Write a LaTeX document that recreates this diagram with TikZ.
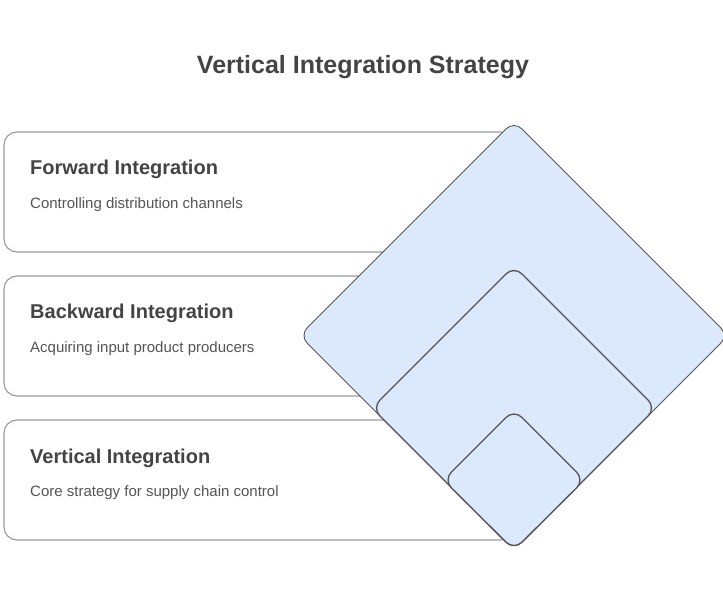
\documentclass[tikz,border=0pt]{standalone}
\usepackage{fontspec}
\setmainfont{Liberation Sans}
\definecolor{titlecol}{HTML}{444444}
\definecolor{textcol}{HTML}{555555}
\definecolor{boxline}{HTML}{9A9A9A}
\definecolor{diaLine}{HTML}{555555}
\definecolor{diaFill}{HTML}{DCE8FC}
\tikzset{
  cardbox/.style={draw=boxline, line width=1.1pt, fill=white, rounded corners=13pt},
  headtext/.style={anchor=base west, inner sep=0pt, font=\fontsize{20}{24}\selectfont\bfseries, text=titlecol},
  desctext/.style={anchor=base west, inner sep=0pt, font=\fontsize{15}{18}\selectfont, text=textcol},
  diabig/.style={draw=diaLine, line width=0.9pt, fill=diaFill, rounded corners=11pt},
  diainner/.style={draw=diaLine, line width=1.3pt, fill=diaFill, rounded corners=11pt},
}
\begin{document}
\begin{tikzpicture}[x=1pt,y=-1pt]
\useasboundingbox (0,0) rectangle (723,609);
% title
\node[anchor=base, inner sep=0pt, font=\fontsize{25}{30}\selectfont\bfseries, text=titlecol] (title) at (363,74) {Vertical Integration Strategy};
% cards
\draw[cardbox] (4,132) rectangle (514,252);
\draw[cardbox] (4,276) rectangle (514,396);
\draw[cardbox] (4,420) rectangle (514,540);
\node[headtext] (h1) at (30,175) {Forward Integration};
\node[desctext] (d1) at (30,208.5) {Controlling distribution channels};
\node[headtext] (h2) at (30,319) {Backward Integration};
\node[desctext] (d2) at (30,352.5) {Acquiring input product producers};
\node[headtext] (h3) at (30,463) {Vertical Integration};
\node[desctext] (d3) at (30,496.5) {Core strategy for supply chain control};
% diamonds sharing bottom vertex (514,550)
\draw[diabig] (514,121) -- (728.5,335.5) -- (514,550) -- (299.5,335.5) -- cycle;
\draw[diainner] (514,266) -- (656,408) -- (514,550) -- (372,408) -- cycle;
\draw[diainner] (514,409.5) -- (584.5,480) -- (514,550) -- (443.5,480) -- cycle;
\end{tikzpicture}
\end{document}
